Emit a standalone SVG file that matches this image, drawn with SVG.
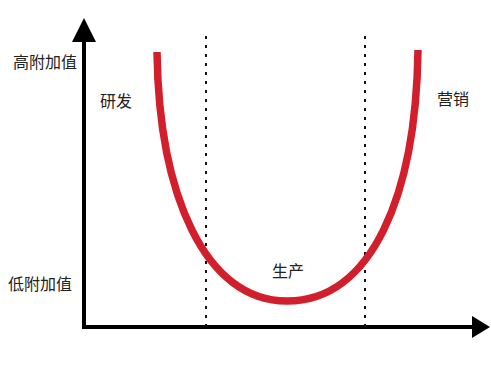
<svg xmlns="http://www.w3.org/2000/svg" width="491" height="374" viewBox="0 0 491 374">
<style>
.lbl{font-family:"Noto Sans CJK SC","Noto Sans",sans-serif;font-size:16px;fill:#222}
.axis{stroke:#000;stroke-width:4;fill:none}
.dot{stroke:#111;stroke-width:2;stroke-dasharray:3 6;fill:none}
</style>
<rect width="491" height="374" fill="#fff"/>
<g id="connectors">
<line class="axis" x1="84" y1="329" x2="84" y2="40"/>
<polygon points="84,18 72,42 96,42" fill="#000"/>
<line class="axis" x1="82" y1="327" x2="475" y2="327"/>
<polygon points="490,327 472,316 472,338" fill="#000"/>
<line class="dot" x1="206" y1="36" x2="206" y2="327"/>
<line class="dot" x1="365" y1="36" x2="365" y2="327"/>
</g>
<g id="curve">
<path d="M157,52 C159,195 205,301 287,301 C372,301 416,195 418,50" fill="none" stroke="#d11f2b" stroke-width="7.5"/>
</g>
<g id="high"><text class="lbl" x="13" y="68">高附加值</text></g>
<g id="low"><text class="lbl" x="8" y="290">低附加值</text></g>
<g id="rd"><text class="lbl" x="100" y="107">研发</text></g>
<g id="mkt"><text class="lbl" x="437" y="105">营销</text></g>
<g id="prod"><text class="lbl" x="272" y="277">生产</text></g>
</svg>
